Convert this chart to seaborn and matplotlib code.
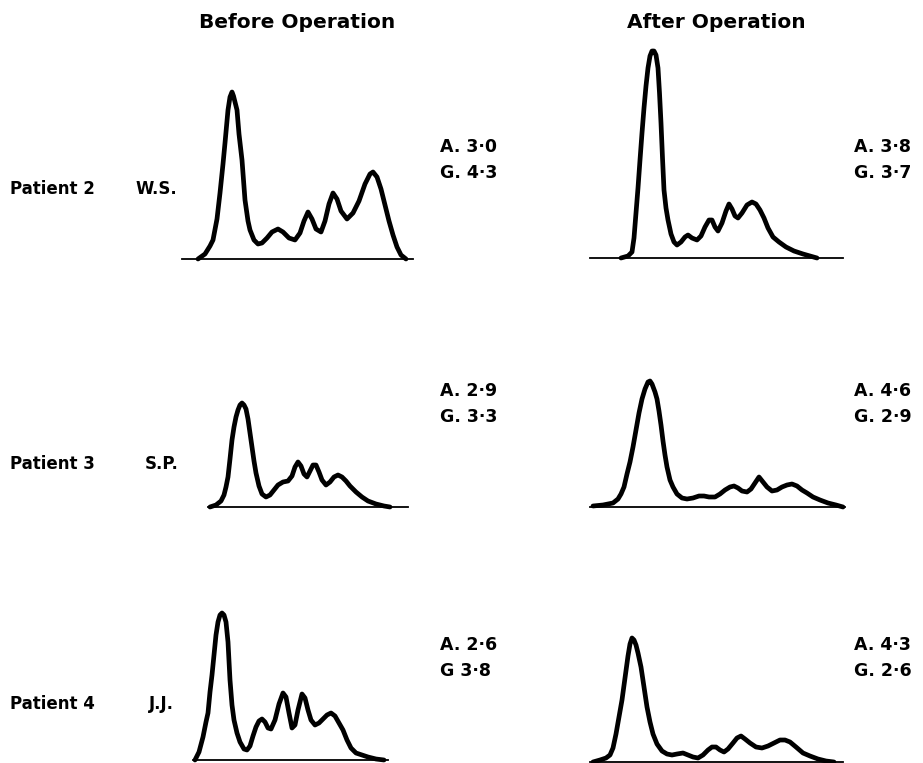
import matplotlib
matplotlib.use("Agg")
import matplotlib.pyplot as plt
import seaborn as sns
import pandas as pd

sns.set_theme(style="white")
plt.rcParams['font.family'] = ['DejaVu Sans']

# ---- data: densitometer traces (mobility, density) ----
before_ws_x = [16, 23, 28, 31, 35, 38, 41, 43, 46, 48, 50, 51.5, 55, 57, 60, 63, 66, 68, 72, 76, 80, 85, 90, 96,
               101, 107, 113, 118, 122, 126, 130, 134, 139, 143, 147, 151, 155, 159, 165, 171, 177, 183, 188,
               191, 195, 199, 203, 207, 211, 215, 219, 224]
before_ws_y = [0, 5, 13, 19, 40, 66, 95, 116, 149, 162, 167, 163, 149, 125, 99, 59, 38, 29, 19, 15, 16, 21, 27, 30,
               27, 21, 19, 26, 38, 47, 40, 30, 27, 38, 55, 66, 60, 48, 40, 46, 58, 75, 85,
               87, 82, 70, 54, 38, 24, 12, 4, 0]

after_ws_x = [31, 38, 42, 44, 46, 48, 50, 52, 54, 56, 58, 60, 62, 64, 66, 68, 69.5, 71, 72.5, 74, 76, 78, 81, 84,
              87, 91, 95, 98, 102, 107, 111, 115, 119, 122, 125, 128, 132, 136, 139, 142, 145, 148, 152, 157,
              162, 166, 170, 174, 178, 183, 189, 196, 204, 213, 220, 227]
after_ws_y = [0, 2, 6, 20, 45, 70, 98, 125, 150, 172, 190, 202, 207, 207, 203, 190, 165, 135, 100, 68, 50, 38, 24, 16,
              13, 16, 21, 23, 20, 18, 22, 31, 38, 38, 31, 27, 35, 47, 54, 49, 42, 40, 45, 53,
              56, 54, 48, 40, 30, 21, 16, 11, 7, 4, 2, 0]

before_sp_x = [2, 8, 13, 16, 18, 20, 22, 24, 26, 28, 30, 32, 34, 36, 38, 40, 42, 44, 46, 48, 51, 54, 58, 62, 66,
               70, 75, 80, 84, 87, 90, 93, 96, 99, 102, 105, 108, 111, 114, 118, 122, 126, 130, 134, 138, 142,
               148, 154, 160, 168, 176, 182]
before_sp_y = [0, 2, 6, 12, 20, 30, 48, 67, 80, 90, 97, 102, 104, 102, 98, 88, 74, 60, 46, 34, 21, 13, 10, 12, 17,
               22, 25, 26, 31, 40, 45, 41, 33, 30, 36, 42, 42, 35, 27, 22, 25, 30, 32, 30, 26, 21,
               15, 10, 6, 3, 1, 0]

after_sp_x = [3, 13, 23, 28, 31, 34, 37, 40, 43, 46, 49, 52, 55, 58, 60, 62, 65, 67, 69, 71, 73, 75, 77, 80, 83,
              87, 92, 97, 103, 109, 114, 119, 125, 130, 135, 140, 144, 148, 152, 157, 161, 165, 169, 173, 177,
              182, 187, 192, 197, 202, 207, 212, 217, 223, 230, 238, 246, 253]
after_sp_y = [1, 2, 4, 8, 13, 20, 33, 45, 60, 77, 94, 108, 118, 125, 126, 123, 115, 108, 96, 82, 66, 52, 40, 27, 20,
              13, 9, 8, 9, 11, 11, 10, 10, 13, 17, 20, 21, 19, 16, 15, 18, 24, 30, 25, 20,
              16, 17, 20, 22, 23, 21, 17, 14, 10, 7, 4, 2, 0]

before_jj_x = [2, 6, 10, 13, 15, 17, 19, 21, 23, 25, 27, 29, 31, 33, 35, 37, 39, 41, 44, 47, 51, 54, 57, 60, 63,
               66, 69, 72, 75, 78, 82, 86, 90, 93, 96, 99, 102, 105, 109, 112, 115, 118, 122, 126, 130, 134,
               138, 142, 146, 150, 154, 158, 163, 169, 175, 183, 191]
before_jj_y = [0, 8, 23, 38, 47, 68, 85, 105, 125, 138, 145, 147, 145, 138, 118, 80, 55, 40, 27, 18, 11, 10, 14, 24, 33,
               39, 41, 38, 32, 31, 40, 56, 67, 63, 47, 32, 35, 50, 66, 62, 50, 40, 35, 37, 41, 45,
               47, 44, 37, 30, 20, 12, 7, 5, 3, 1, 0]

after_jj_x = [3, 10, 16, 20, 23, 26, 29, 32, 35, 38, 40, 42, 44, 46, 48, 51, 54, 57, 60, 63, 67, 72, 77, 82, 87,
              93, 98, 103, 108, 113, 118, 122, 126, 130, 134, 138, 143, 147, 151, 155, 160, 166, 172, 178,
              184, 190, 195, 200, 206, 213, 220, 228, 236, 244]
after_jj_y = [0, 2, 4, 7, 14, 28, 45, 62, 84, 106, 118, 124, 122, 117, 109, 95, 75, 55, 40, 28, 18, 11, 8, 7, 8,
              9, 7, 5, 4, 7, 12, 15, 15, 12, 10, 13, 19, 24, 26, 23, 19, 15, 14, 16,
              19, 22, 22, 20, 15, 9, 6, 3, 1, 0]

# ---- labels ----
column_titles = ["Before Operation", "After Operation"]
patients = ["Patient 2", "Patient 3", "Patient 4"]
initials = ["W.S.", "S.P.", "J.J."]
before_values = [["A. 3·0", "G. 4·3"], ["A. 2·9", "G. 3·3"], ["A. 2·6", "G 3·8"]]
after_values = [["A. 3·8", "G. 3·7"], ["A. 4·6", "G. 2·9"], ["A. 4·3", "G. 2·6"]]

traces = [
    [(before_ws_x, before_ws_y), (after_ws_x, after_ws_y)],
    [(before_sp_x, before_sp_y), (after_sp_x, after_sp_y)],
    [(before_jj_x, before_jj_y), (after_jj_x, after_jj_y)],
]

# ---- layout (pixels) ----
W, H = 923, 763
fig = plt.figure(figsize=(W / 100, H / 100), dpi=100)
fig.patch.set_facecolor("white")

# baseline (left, right, y) for each panel
panel_base = [
    [(182, 413, 259), (590, 843, 258)],
    [(208, 408, 507), (590, 845, 507)],
    [(193, 388, 760), (590, 843, 762)],
]
panel_h = 230

for r in range(3):
    for c in range(2):
        x0, x1, yb = panel_base[r][c]
        ax = fig.add_axes([x0 / W, (H - yb) / H, (x1 - x0) / W, panel_h / H])
        xs, ys = traces[r][c]
        df = pd.DataFrame({"mobility": xs, "density": ys})
        sns.lineplot(data=df, x="mobility", y="density", ax=ax, color="black",
                     linewidth=3.4, sort=False, estimator=None)
        for ln in ax.lines:
            ln.set_solid_joinstyle("round")
            ln.set_solid_capstyle("round")
            ln.set_clip_on(False)
        ax.set_xlim(0, x1 - x0)
        ax.set_ylim(0, panel_h)
        ax.set_facecolor("none")
        ax.set_xticks([])
        ax.set_yticks([])
        ax.set_xlabel("")
        ax.set_ylabel("")
        for s in ["left", "right", "top"]:
            ax.spines[s].set_visible(False)
        ax.spines["bottom"].set_color("black")
        ax.spines["bottom"].set_linewidth(1.3)


def ftext(x, y, s, **kw):
    fig.text(x / W, 1 - y / H, s, va="center", color="black", **kw)


ftext(297, 23, column_titles[0], ha="center", fontsize=14.5, fontweight="bold")
ftext(716, 23, column_titles[1], ha="center", fontsize=14.5, fontweight="bold")

label_y = [189, 464, 704]
initial_x = [135, 145, 149]
value_y = [147, 391, 645]
for r in range(3):
    ftext(10, label_y[r], patients[r], ha="left", fontsize=12, fontweight="bold")
    ftext(initial_x[r], label_y[r], initials[r], ha="left", fontsize=12, fontweight="bold")
    for k in range(2):
        ftext(440, value_y[r] + 26 * k, before_values[r][k], ha="left", fontsize=12.5, fontweight="bold")
        ftext(854, value_y[r] + 26 * k, after_values[r][k], ha="left", fontsize=12.5, fontweight="bold")

fig.savefig("out.png", dpi=100, facecolor="white")
